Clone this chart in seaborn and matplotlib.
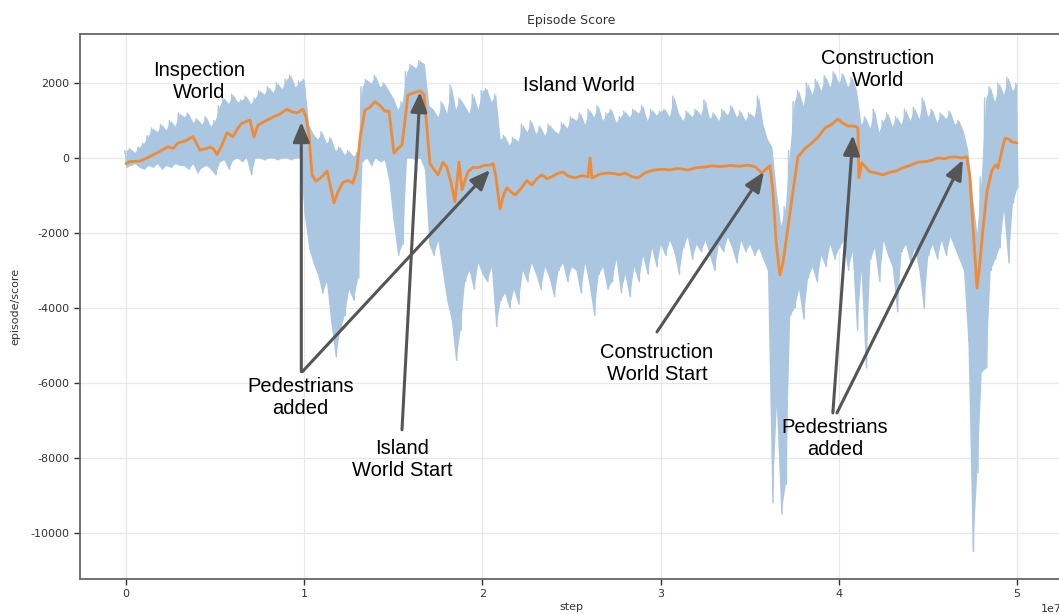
import numpy as np
import pandas as pd
import matplotlib
matplotlib.use("Agg")
import matplotlib.pyplot as plt
import seaborn as sns

# ---------------- data (steps in units of 1e7) ----------------
raw_step = np.linspace(0.0, 5.0, 201)  # logging grid of the raw series
raw_hi = [200, 250, 150, 300,
          400, 600, 800, 700, 900, 750, 1000, 850, 1200,
          1100, 1200, 950, 1050, 900, 1100, 850, 1000, 1400,
          1600, 1450, 1700, 1500, 1550, 1650, 1450, 1600,
          1800, 1700, 1900, 1750, 2000, 1850, 2100, 2200, 1900, 2050,
          2100,
          900, 650, 500, 700, 400, 550, 200, 300, 100, 200, 50, 150,
          1900, 2100, 2000, 2200, 1900, 2000, 1800, 1600,
          1300, 1500,
          2300, 2500, 2400, 2600, 2500,
          1400, 1300, 1100, 1500, 1200, 1950, 1300, 1600, 1400, 1200, 1700, 1300, 1800,
          1850, 1500, 1700, 500,
          600, 350, 550, 450,
          900, 700, 1000, 650, 850, 600, 900, 750, 650, 950, 800, 1100,
          1000, 1200, 900, 1300, 1100, 1400, 1000, 1200, 1300, 950, 1100, 1250,
          1100, 1300, 1200, 1400, 1000, 1300, 1150, 1250,
          1300, 1100, 1650, 1200, 1000, 1250, 1100, 1300, 1150, 1550, 1050, 1200,
          1000, 1300, 1150, 1400, 1100, 1250, 1000, 1200, 1100, 1650,
          900, 500, 300, -900, -1800, -1300, 200,
          1500, 1800, 1400, 2000, 1700, 2100, 1800, 2200, 1900, 2300, 2000,
          2250, 1900, 2150, 1800,
          900, 1100, 800, 1300, 700, 1000, 1200, 850, 1100, 900, 1300, 1000, 1350,
          1050, 1600, 1100, 1300, 950, 1200, 1050, 1250,
          900, 1000, 700, 200, -1000, -2000, -500, 1600, 1900, 1500, 2000, 1700,
          2150, 1800, 2000]
raw_lo = [-250, -200, -150, -250,
          -300, -200, -250, -150, -300, -200, -250, -150, -200,
          -200, -300, -150, -400, -250, -200, -300, -450, -100,
          -50, -300, -50, 0, -100, 0, -450, 0,
          0, -50, 0, 0, -50, 0, 0, -50, 0, 0,
          -1500,
          -2400, -2800, -3100, -3600, -3300, -4400, -5300, -4600, -4200, -3500, -3800, -3200,
          -100, 0, -200, 0, -100, -50, -600, -1700,
          -2600, -2300,
          0, 0, -50, 0, -300,
          -2300, -2600, -2200, -3000, -3800, -4300, -5400, -4600, -3300, -3000, -3500, -2800, -3100,
          -3300, -2900, -4500, -3800,
          -3600, -4000, -3500, -3900,
          -3000, -3300, -2800, -3100, -3500, -2900, -3200, -3700, -3000, -2800, -3300, -2900,
          -3000, -3600, -2800, -3400, -4200, -3100, -2900, -3500, -3300, -2700, -3600, -3100,
          -3700, -2900, -3300, -2600, -3100, -2400, -2900, -2300,
          -2600, -2200, -2500, -3100, -2400, -2100, -2700, -2300, -2500, -2200, -2600, -3000,
          -2300, -2500, -2100, -2400, -2800, -2200, -2500, -2300, -2600, -2400,
          -2700, -3000, -9200, -6600, -9500, -8700, -4200,
          -4000, -3500, -4300, -3200, -2900, -3300, -2600, -2900, -2300, -2700, -2400,
          -2200, -3000, -2500, -4600,
          -3000, -5600, -2700, -2400, -3300, -2200, -2600, -2900, -4100, -2500, -2300, -2800,
          -2400, -3000, -4000, -2600, -2300, -2700, -2200, -2600, -2100,
          -2400, -2700, -3000, -4900, -10500, -8400, -5700, -5600, -3000, -2700, -2400, -1400,
          -2800, -1200, -800]

smooth_step = [0.0, 0.022, 0.079, 0.118, 0.18, 0.236, 0.264, 0.292, 0.331, 0.376,
               0.415, 0.449, 0.471, 0.494, 0.511, 0.539, 0.567, 0.600, 0.629, 0.651,
               0.696, 0.718, 0.741, 0.780, 0.825, 0.864, 0.903, 0.932, 0.960, 0.993,
               1.010, 1.027, 1.044, 1.066, 1.100, 1.128, 1.145, 1.167, 1.190, 1.218,
               1.246, 1.274, 1.296, 1.313, 1.341, 1.369, 1.397, 1.425, 1.453, 1.476,
               1.504, 1.526, 1.549, 1.571, 1.582, 1.622, 1.650, 1.672, 1.689, 1.706,
               1.728, 1.751, 1.779, 1.801, 1.824, 1.846, 1.869, 1.886, 1.902, 1.919,
               1.947, 1.975, 2.009, 2.043, 2.060, 2.076, 2.099, 2.121, 2.138, 2.160,
               2.183, 2.211, 2.250, 2.278, 2.306, 2.334, 2.363, 2.391, 2.419, 2.452,
               2.480, 2.520, 2.559, 2.593, 2.604, 2.615, 2.660, 2.705, 2.744, 2.772,
               2.800, 2.839, 2.873, 2.912, 2.941, 2.969, 3.008, 3.053, 3.098, 3.154,
               3.199, 3.249, 3.288, 3.333, 3.390, 3.446, 3.491, 3.530, 3.569, 3.591,
               3.614, 3.631, 3.648, 3.670, 3.687, 3.715, 3.743, 3.771, 3.810, 3.849,
               3.883, 3.923, 3.962, 3.996, 4.018, 4.052, 4.091, 4.108, 4.113, 4.130,
               4.152, 4.175, 4.209, 4.248, 4.287, 4.321, 4.355, 4.400, 4.444, 4.484,
               4.523, 4.557, 4.596, 4.624, 4.652, 4.691, 4.719, 4.736, 4.753, 4.776,
               4.792, 4.809, 4.832, 4.860, 4.882, 4.893, 4.916, 4.933, 4.955, 4.972,
               5.000]
smooth_score = [-150, -100, -80, 0, 150, 300, 250, 400, 450, 570,
                210, 250, 290, 230, 90, 350, 670, 570, 800, 930,
                1010, 560, 880, 980, 1090, 1170, 1300, 1230, 1200, 1300,
                1100, 600, -450, -620, -500, -350, -700, -1200, -900, -650,
                -600, -670, -300, 500, 1280, 1350, 1500, 1400, 1250, 1250,
                130, 250, 350, 1200, 1680, 1750, 1790, 1700, 800, -150,
                -300, -450, -110, -250, -650, -1170, -110, -850, -600, -370,
                -250, -260, -200, -190, -150, -500, -1360, -950, -800, -900,
                -990, -850, -600, -720, -550, -450, -550, -500, -420, -370,
                -480, -530, -470, -500, 0, -530, -430, -400, -420, -450,
                -400, -500, -530, -400, -350, -320, -300, -320, -280, -320,
                -260, -240, -210, -230, -200, -220, -190, -230, -400, -300,
                -210, -900, -2200, -3120, -2800, -1840, -900, 30, 250, 400,
                550, 800, 900, 1040, 950, 850, 850, 800, -530, -130,
                -250, -370, -400, -450, -380, -350, -270, -200, -110, -100,
                -60, 0, -20, 20, 30, 0, 30, -500, -1800, -3470,
                -2800, -1920, -900, -320, -180, -270, 200, 530, 500, 430,
                400]

# ---------------- tables ----------------
half = 0.00625
zig_x = np.ravel(np.column_stack([raw_step - half, raw_step + half])) * 1e7
zig_y = np.ravel(np.column_stack([raw_hi, raw_lo]))
raw_df = pd.DataFrame({"step": zig_x, "score": zig_y})
smooth_df = pd.DataFrame({"step": np.array(smooth_step) * 1e7, "score": smooth_score})

# ---------------- style ----------------
sns.set_style("white")
plt.rcParams["font.family"] = ["DejaVu Sans"]
plt.rcParams["axes.unicode_minus"] = False

RAW_C = "#abc6e1"
fig = plt.figure(figsize=(10.59, 6.14), dpi=100)
ax = fig.add_axes([80 / 1059, 1 - 579 / 614, (1062 - 80) / 1059, 545 / 614])

ax.fill_between(raw_step * 1e7, raw_lo, raw_hi, color=RAW_C, lw=0, zorder=2)
sns.lineplot(data=raw_df, x="step", y="score", ax=ax, color=RAW_C,
             lw=1.0, estimator=None, sort=False, zorder=2)
sns.lineplot(data=smooth_df, x="step", y="score", ax=ax, color="#f08a33",
             lw=2.0, estimator=None, sort=False, zorder=3)

ax.set_xlim(-0.258e7, 5.253e7)
ax.set_ylim(-11230, 3307)
ax.set_yticks([-10000, -8000, -6000, -4000, -2000, 0, 2000])
ax.set_xticks([0, 1e7, 2e7, 3e7, 4e7, 5e7])
ax.grid(True, color="#e8e8e8", lw=0.9, zorder=0)
ax.set_axisbelow(True)
for s in ["left", "bottom", "top", "right"]:
    ax.spines[s].set_color("#666666")
    ax.spines[s].set_linewidth(1.3)
ax.tick_params(axis="both", labelsize=8, colors="#333333", length=4, width=1,
               direction="out", left=True, bottom=True)
ax.xaxis.get_offset_text().set_fontsize(8)
ax.xaxis.get_offset_text().set_color("#333333")

ax.set_title("Episode Score", fontsize=9, color="#333333", pad=7)
ax.set_xlabel("step", fontsize=8, color="#333333", labelpad=2)
ax.set_ylabel("episode/score", fontsize=8, color="#333333", labelpad=7)

# ---------------- annotations ----------------
afont = dict(family=["Liberation Sans", "DejaVu Sans"], fontsize=14.5, color="black",
             ha="center", va="center", linespacing=1.2)
arrow = dict(arrowstyle="-|>,head_length=0.6,head_width=0.25", color="#555555",
             lw=2.2, shrinkA=0, shrinkB=0, mutation_scale=20)

ax.text(0.41e7, 2050, "Inspection\nWorld", **afont)
ax.text(2.54e7, 1920, "Island World", **afont)
ax.text(4.22e7, 2370, "Construction\nWorld", **afont)

ax.text(0.98e7, -6400, "Pedestrians\nadded", **afont)
ax.annotate("", xy=(0.984e7, 960), xytext=(0.984e7, -5700), arrowprops=arrow)
ax.annotate("", xy=(2.043e7, -320), xytext=(0.99e7, -5700), arrowprops=arrow)

ax.text(1.55e7, -8050, "Island\nWorld Start", **afont)
ax.annotate("", xy=(1.65e7, 1760), xytext=(1.549e7, -7250), arrowprops=arrow)

ax.text(2.98e7, -5470, "Construction\nWorld Start", **afont)
ax.annotate("", xy=(3.58e7, -370), xytext=(2.98e7, -4640), arrowprops=arrow)

ax.text(3.98e7, -7470, "Pedestrians\nadded", **afont)
ax.annotate("", xy=(4.08e7, 610), xytext=(3.967e7, -6800), arrowprops=arrow)
ax.annotate("", xy=(4.697e7, -50), xytext=(3.99e7, -6800), arrowprops=arrow)

fig.savefig("out.png", dpi=100)
